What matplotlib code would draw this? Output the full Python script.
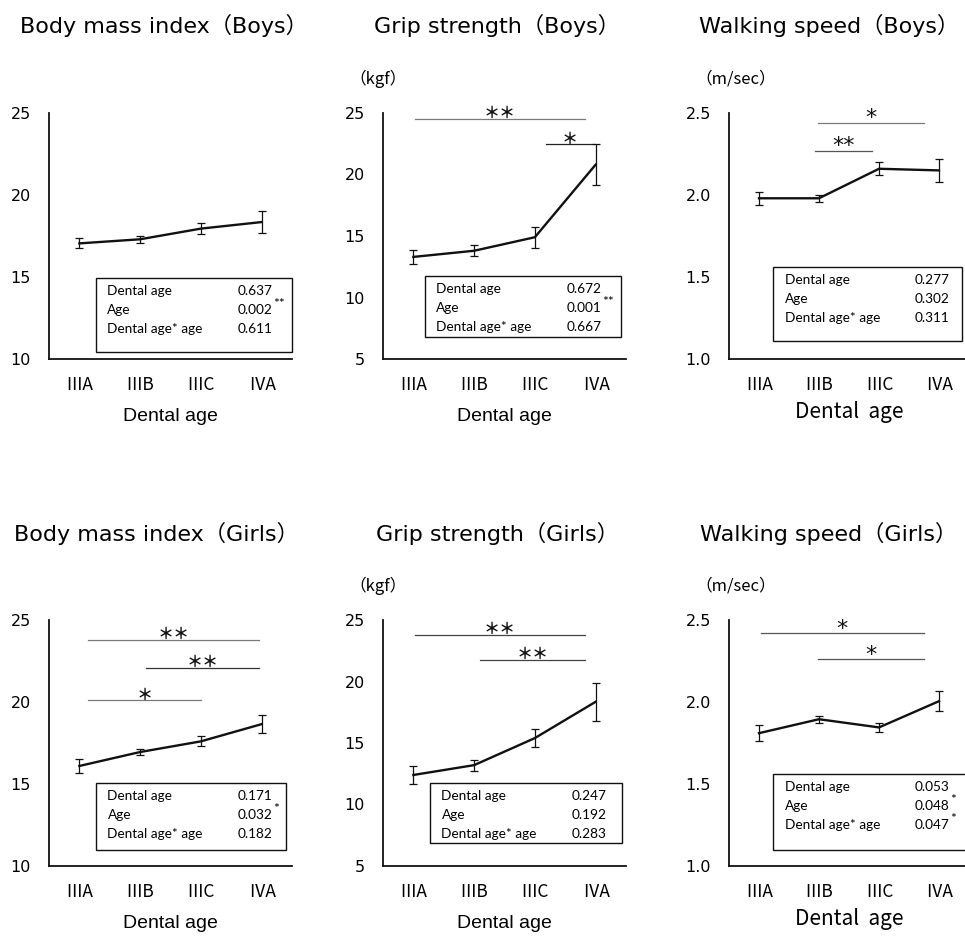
import matplotlib
matplotlib.use('Agg')
import matplotlib.pyplot as plt
from matplotlib.patches import Rectangle

# categories on the x axis
stages = ['ⅢA', 'ⅢB', 'ⅢC', 'ⅣA']

# means and error bars
bmi_boys = [17.05, 17.3, 17.95, 18.35]
bmi_boys_err = [0.3, 0.2, 0.35, 0.65]
grip_boys = [13.3, 13.8, 14.9, 20.8]
grip_boys_err = [0.6, 0.45, 0.85, 1.65]
walk_boys = [1.98, 1.98, 2.16, 2.15]
walk_boys_err = [0.04, 0.02, 0.04, 0.07]

bmi_girls = [16.1, 16.95, 17.6, 18.65]
bmi_girls_err = [0.4, 0.2, 0.3, 0.55]
grip_girls = [12.4, 13.2, 15.4, 18.35]
grip_girls_err = [0.75, 0.45, 0.7, 1.55]
walk_girls = [1.81, 1.895, 1.845, 2.005]
walk_girls_err = [0.05, 0.02, 0.03, 0.06]

# p-values of the two-way analysis (value, stars)
anova_labels = ['Dental age', 'Age', 'Dental age* age']
p_bmi_boys = [('0.637', ''), ('0.002', '**'), ('0.611', '')]
p_grip_boys = [('0.672', ''), ('0.001', '**'), ('0.667', '')]
p_walk_boys = [('0.277', ''), ('0.302', ''), ('0.311', '')]
p_bmi_girls = [('0.171', ''), ('0.032', '*'), ('0.182', '')]
p_grip_girls = [('0.247', ''), ('0.192', ''), ('0.283', '')]
p_walk_girls = [('0.053', ''), ('0.048', '*'), ('0.047', '*')]

# significance brackets: (from, to, level, stars, colour)
sig_bmi_boys = []
sig_grip_boys = [(1.02, 3.83, 24.5, '＊＊', '#7a7a7a'), (3.18, 3.97, 22.45, '＊', '#222222')]
sig_walk_boys = [(1.99, 3.745, 2.44, '*', '#7a7a7a'), (1.93, 2.88, 2.27, '**', '#555555')]
sig_bmi_girls = [(1.15, 3.96, 23.8, '＊＊', '#7a7a7a'), (2.09, 3.96, 22.07, '＊＊', '#333333'),
                 (1.15, 3.01, 20.1, '＊', '#7a7a7a')]
sig_grip_girls = [(1.02, 3.83, 23.76, '＊＊', '#444444'), (2.1, 3.83, 21.75, '＊＊', '#444444')]
sig_walk_girls = [(1.03, 3.745, 2.42, '*', '#555555'), (1.99, 3.745, 2.26, '*', '#555555')]

JP = ['Noto Sans CJK JP', 'DejaVu Sans']
TITLE = ['DejaVu Sans', 'Noto Sans CJK JP']
BOX_FONT = 'Lato'

fig = plt.figure(figsize=(9.65, 9.39), dpi=100)
W, H = 965, 939


def px_axes(x0, y_top, y_bot, w):
    return fig.add_axes([x0 / W, 1 - y_bot / H, w / W, (y_bot - y_top) / H])


panels = [
    # title, title centre x, title y, unit, values, err, pvals, sig, ylim, yticks, fmt, axes box, annotation box
    ('Body mass index（Boys）', 164, 25, None, bmi_boys, bmi_boys_err, p_bmi_boys, sig_bmi_boys,
     (10, 25), [10, 15, 20, 25], '{:.0f}', (49, 113, 359, 243), (1.27, 10.43, 4.5, 14.94), 'arial'),
    ('Grip strength（Boys）', 497, 25, '（kgf）', grip_boys, grip_boys_err, p_grip_boys, sig_grip_boys,
     (5, 25), [5, 10, 15, 20, 25], '{:.0f}', (383, 113, 359, 243), (1.19, 6.81, 4.42, 11.72), 'arial'),
    ('Walking speed（Boys）', 829, 25, '（m/sec）', walk_boys, walk_boys_err, p_walk_boys, sig_walk_boys,
     (1.0, 2.5), [1.0, 1.5, 2.0, 2.5], '{:.1f}', (729, 113, 359, 240), (1.24, 1.11, 4.39, 1.56), 'jp'),
    ('Body mass index（Girls）', 156, 533, None, bmi_girls, bmi_girls_err, p_bmi_girls, sig_bmi_girls,
     (10, 25), [10, 15, 20, 25], '{:.0f}', (49, 620, 866, 243), (1.28, 11.0, 4.4, 15.07), 'arial'),
    ('Grip strength（Girls）', 497, 533, '（kgf）', grip_girls, grip_girls_err, p_grip_girls, sig_grip_girls,
     (5, 25), [5, 10, 15, 20, 25], '{:.0f}', (383, 620, 866, 243), (1.28, 6.9, 4.44, 11.76), 'arial'),
    ('Walking speed（Girls）', 829, 533, '（m/sec）', walk_girls, walk_girls_err, p_walk_girls, sig_walk_girls,
     (1.0, 2.5), [1.0, 1.5, 2.0, 2.5], '{:.1f}', (729, 620, 866, 240), (1.24, 1.10, 4.6, 1.56), 'jp'),
]

x = list(range(1, len(stages) + 1))

for (title, tx, ty, unit, vals, errs, pvals, sigs, ylim, yticks, fmt,
     (ax_x, ax_top, ax_bot, ax_w), (bx0, by0, bx1, by1), lab_style) in panels:
    ax = px_axes(ax_x, ax_top, ax_bot, ax_w)
    ax.set_xlim(0.5, 4.5)
    ax.set_ylim(*ylim)
    for s in ['top', 'right']:
        ax.spines[s].set_visible(False)
    for s in ['left', 'bottom']:
        ax.spines[s].set_linewidth(1.3)
        ax.spines[s].set_color('#111111')

    ax.errorbar(x, vals, yerr=errs, color='#111111', lw=1.7, elinewidth=0.9,
                capsize=3.0, capthick=0.9, zorder=3)

    ax.set_yticks(yticks)
    ax.set_yticklabels([fmt.format(t) for t in yticks], fontsize=11.5, family='DejaVu Sans')
    ax.set_xticks(x)
    ax.set_xticklabels(stages, fontsize=12.5, family=JP)
    ax.tick_params(axis='y', length=0, pad=13)
    ax.tick_params(axis='x', length=0, pad=12)

    if lab_style == 'jp':
        ax.set_xlabel('Dental  age', fontsize=15, family=JP, labelpad=5)
    else:
        ax.set_xlabel('Dental age', fontsize=14, family='Liberation Sans', labelpad=10)

    # significance brackets
    for (a, b, lev, stars, col) in sigs:
        ax.plot([a, b], [lev, lev], color=col, lw=0.9, zorder=2)
        full = '＊' in stars
        ax.annotate(stars, xy=((a + b) / 2, lev), xytext=(0, -1.5 if full else -4),
                    textcoords='offset points', ha='center', va='bottom',
                    fontsize=11.5 if full else 16, fontweight='bold' if full else 'normal',
                    family=JP if full else 'DejaVu Sans', color='#111111')

    # p-value box
    ax.add_patch(Rectangle((bx0, by0), bx1 - bx0, by1 - by0, facecolor='white',
                           edgecolor='#111111', lw=1.0, zorder=4, clip_on=False))
    for k, (lab, (pv, st)) in enumerate(zip(anova_labels, pvals)):
        dy = -(13 + 19 * k) * 0.72
        ax.annotate(lab, xy=(bx0, by1), xytext=(8, dy), textcoords='offset points',
                    ha='left', va='center', fontsize=9.8, family=BOX_FONT, zorder=5)
        t = ax.annotate(pv, xy=(bx0, by1), xytext=(102, dy), textcoords='offset points',
                        ha='left', va='center', fontsize=9.8, family=BOX_FONT, zorder=5)
        if st:
            ax.annotate(st, xy=(1.0, 0.5), xycoords=t, xytext=(0.5, 0), textcoords='offset points',
                        ha='left', va='bottom', fontsize=10, family=BOX_FONT, zorder=5)

    fig.text(tx / W, 1 - ty / H, title, ha='center', va='center', fontsize=16, family=TITLE)
    if unit:
        fig.text((ax_x - 34) / W, 1 - (ax_top - 34) / H, unit, ha='left', va='center',
                 fontsize=12, family=JP)

fig.savefig('out.png', dpi=100)
